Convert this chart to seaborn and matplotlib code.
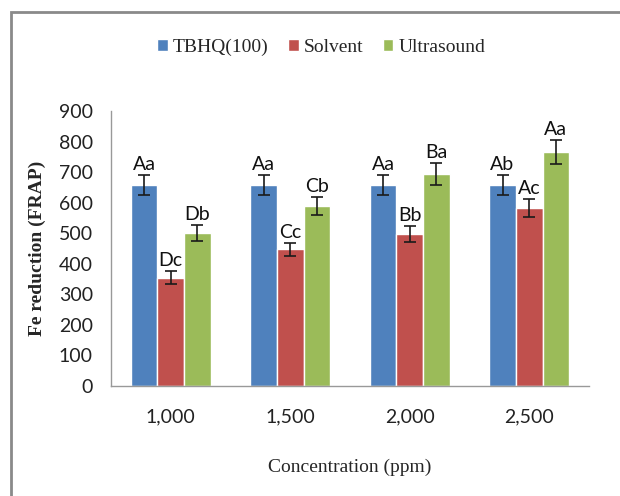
import matplotlib

matplotlib.use("Agg")

import matplotlib.pyplot as plt
import pandas as pd
import seaborn as sns
from matplotlib.patches import Rectangle


concentrations = ["1,000", "1,500", "2,000", "2,500"]
treatments = ["TBHQ(100)", "Solvent", "Ultrasound"]
tbhq_values = [658, 658, 658, 658]
solvent_values = [355, 447, 497, 582]
ultrasound_values = [502, 590, 694, 766]
tbhq_errors = [32, 32, 32, 32]
solvent_errors = [20, 22, 26, 30]
ultrasound_errors = [26, 30, 36, 40]
tbhq_letters = ["Aa", "Aa", "Aa", "Ab"]
solvent_letters = ["Dc", "Cc", "Bb", "Ac"]
ultrasound_letters = ["Db", "Cb", "Ba", "Aa"]

colors = ["#4F81BD", "#C0504D", "#9BBB59"]

frame = pd.DataFrame(
    {
        "concentration": concentrations * 3,
        "treatment": [t for t in treatments for _ in concentrations],
        "value": tbhq_values + solvent_values + ultrasound_values,
        "error": tbhq_errors + solvent_errors + ultrasound_errors,
        "letter": tbhq_letters + solvent_letters + ultrasound_letters,
    }
)

sns.set_style("white")
fig = plt.figure(figsize=(6.2, 4.96), dpi=100)
ax = fig.add_axes([0.179, 0.222, 0.771, 0.554])

sns.barplot(
    data=frame,
    x="concentration",
    y="value",
    hue="treatment",
    order=concentrations,
    hue_order=treatments,
    palette=colors,
    width=0.67,
    saturation=1,
    errorbar=None,
    ax=ax,
)

for container, treatment in zip(ax.containers, treatments):
    sub = frame[frame["treatment"] == treatment].set_index("concentration").loc[concentrations]
    for bar, (_, row) in zip(container, sub.iterrows()):
        cx = bar.get_x() + bar.get_width() / 2
        ax.errorbar(cx, row["value"], yerr=row["error"], fmt="none",
                    ecolor="#1a1a1a", elinewidth=1.2, capsize=4, capthick=1.2)
        ax.annotate(row["letter"], (cx, row["value"] + row["error"]),
                    xytext=(0, 1.5), textcoords="offset points",
                    ha="center", va="bottom", fontsize=14,
                    family="Lato", color="#111111")

ax.set_ylim(0, 900)
ax.set_xlim(-0.5, 3.5)
ax.set_yticks(range(0, 901, 100))
ax.tick_params(axis="both", length=5, width=1, color="#999999",
               direction="out", labelsize=14, pad=8)
ax.tick_params(axis="x", pad=11)
for label in ax.get_xticklabels() + ax.get_yticklabels():
    label.set_family("Lato")
    label.set_color("#222222")
for side in ["top", "right"]:
    ax.spines[side].set_visible(False)
for side in ["left", "bottom"]:
    ax.spines[side].set_color("#999999")
    ax.spines[side].set_linewidth(1)

ax.set_xlabel("Concentration (ppm)", family="Liberation Serif", fontsize=14, labelpad=24)
ax.set_ylabel("Fe reduction (FRAP)", family="Liberation Serif", fontsize=14,
              fontweight="bold", labelpad=9)

handles, labels = ax.get_legend_handles_labels()
ax.legend(handles, labels, loc="center", bbox_to_anchor=(0.518, 0.905),
          bbox_transform=fig.transFigure, ncol=3, frameon=False,
          prop={"family": "Liberation Serif", "size": 14},
          handlelength=0.55, handleheight=0.55, handletextpad=0.25,
          columnspacing=1.0)

fig.patches.append(Rectangle((11 / 620, -0.1), 1.2, 0.1 + (496 - 12) / 496,
                             transform=fig.transFigure, fill=False,
                             edgecolor="#8a8a8a", linewidth=2))

fig.savefig("out.png", dpi=100, facecolor="white")
plt.close(fig)
